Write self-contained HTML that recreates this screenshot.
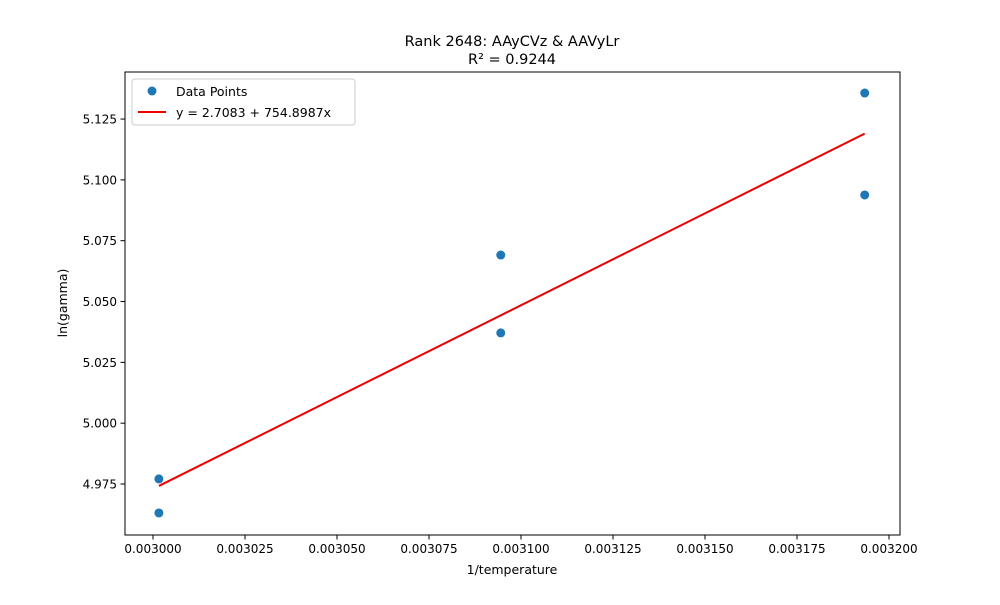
<!DOCTYPE html>
<html><head><meta charset="utf-8"><style>
body{margin:0;background:#fff;font-family:"Liberation Sans","DejaVu Sans",sans-serif;}
svg text{font-family:"DejaVu Sans","Liberation Sans",sans-serif;fill:#000;}
</style></head><body>
<svg id="chart" width="1000" height="600" xmlns="http://www.w3.org/2000/svg">
<rect width="1000" height="600" fill="#fff"/>
<text x="512" y="46" font-size="14.5" text-anchor="middle">Rank 2648: AAyCVz &amp; AAVyLr</text>
<text x="512" y="64" font-size="14.5" text-anchor="middle">R² = 0.9244</text>
<g id="ticks"></g>
<g id="marks"></g>
<rect x="125" y="72" width="775" height="463" fill="none" stroke="#000" stroke-width="1"/>
<text x="512" y="574" font-size="12.5" text-anchor="middle">1/temperature</text>
<text x="67" y="303" font-size="12.5" text-anchor="middle" transform="rotate(-90 67 303)">ln(gamma)</text>
<g>
<rect x="132" y="79" width="223" height="46" rx="3" fill="#fff" fill-opacity="0.8" stroke="#ccc"/>
<circle cx="152" cy="91" r="4.5" fill="#1f77b4"/>
<text x="176" y="96" font-size="12.5">Data Points</text>
<line x1="138" y1="112" x2="166" y2="112" stroke="#e00" stroke-width="2"/>
<text x="176" y="117" font-size="12.5">y = 2.7083 + 754.8987x</text>
</g>
</svg>
<script>
const xValues=[0.0030016,0.0030016,0.0030945,0.0030945,0.0031934,0.0031934];
const yValues=[4.9771,4.9631,5.0691,5.0371,5.1357,5.0938];
const xTicks=[0.003,0.003025,0.00305,0.003075,0.0031,0.003125,0.00315,0.003175,0.0032];
const xTickLabels=["0.003000","0.003025","0.003050","0.003075","0.003100","0.003125","0.003150","0.003175","0.003200"];
const yTicks=[4.975,5.0,5.025,5.05,5.075,5.1,5.125];
const yTickLabels=["4.975","5.000","5.025","5.050","5.075","5.100","5.125"];
const intercept=2.7083, slope=754.8987;
const NS="http://www.w3.org/2000/svg";
function xs(v){return 153+(v-0.003)*3680000;}
function ys(v){return 484-(v-4.975)*2433;}
function mk(t,a){const e=document.createElementNS(NS,t);for(const k in a)e.setAttribute(k,a[k]);return e;}
const tg=document.getElementById('ticks'), mg=document.getElementById('marks');
xTicks.forEach((t,i)=>{const x=xs(t);
 const l=mk('line',{x1:x,y1:535,x2:x,y2:539.5,stroke:'#000'});
 
 
 tg.appendChild(l);
 const tx=mk('text',{x:x,y:553,'font-size':12,'text-anchor':'middle'});tx.textContent=xTickLabels[i];
 
 
 tg.appendChild(tx);});
yTicks.forEach((t,i)=>{const y=ys(t);
 const l=mk('line',{x1:120.5,y1:y,x2:125,y2:y,stroke:'#000'});
 
 
 tg.appendChild(l);
 const tx=mk('text',{x:117,y:y+4.5,'font-size':12,'text-anchor':'end'});tx.textContent=yTickLabels[i];
 
 
 tg.appendChild(tx);});
const xmin=Math.min(...xValues), xmax=Math.max(...xValues);
const fl=mk('line',{x1:xs(xmin),y1:ys(intercept+slope*xmin),x2:xs(xmax),y2:ys(intercept+slope*xmax),stroke:'#e00','stroke-width':2});


xValues.forEach((x,i)=>{const c=mk('circle',{cx:xs(x),cy:ys(yValues[i]),r:4.5,fill:'#1f77b4'});
 
 
 mg.appendChild(c);});
mg.appendChild(fl);
</script>
</body></html>
